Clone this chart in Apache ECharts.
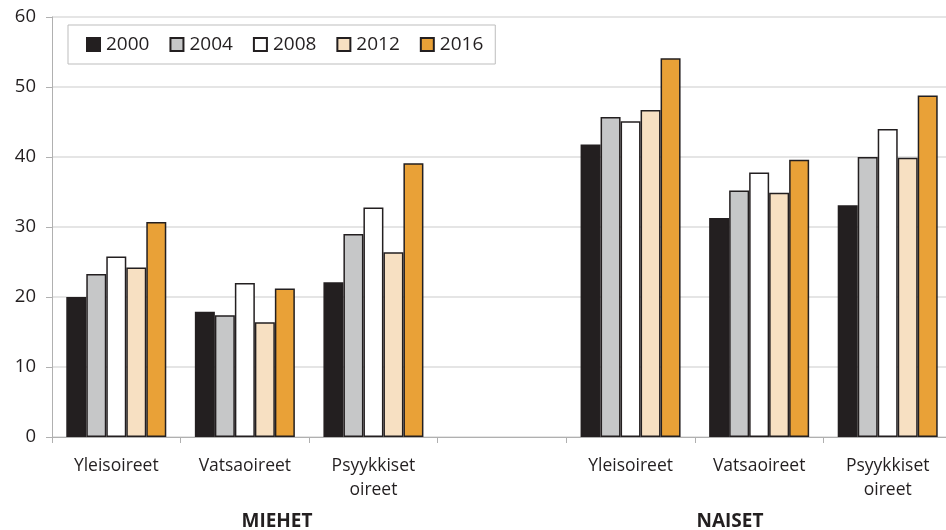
<!DOCTYPE html>
<html><head><meta charset="utf-8">
<script src="https://cdn.jsdelivr.net/npm/echarts@6/dist/echarts.min.js"></script>
<style>html,body{margin:0;padding:0;background:#fff;overflow:hidden;width:946px;height:530px}#c{width:952px;height:530px}</style>
</head><body><div id="c"></div>
<script>
const categories = ['Yleisoireet','Vatsaoireet','Psyykkiset\noireet','','Yleisoireet','Vatsaoireet','Psyykkiset\noireet'];
const years = ['2000','2004','2008','2012','2016'];
const s2000 = [20.0, 17.9, 22.1, null, 41.8, 31.3, 33.1];
const s2004 = [23.3, 17.4, 29.0, null, 45.7, 35.2, 40.0];
const s2008 = [25.8, 22.0, 32.8, null, 45.1, 37.8, 44.0];
const s2012 = [24.2, 16.4, 26.4, null, 46.7, 34.9, 39.9];
const s2016 = [30.7, 21.2, 39.1, null, 54.1, 39.6, 48.8];
const yTicks = [0, 10, 20, 30, 40, 50, 60];
const groupLabels = ['MIEHET', 'NAISET'];

const colors = ['#231f20', '#c6c7c8', '#ffffff', '#f7e0c2', '#e9a137'];
const seriesData = [s2000, s2004, s2008, s2012, s2016];
const font = 'Open Sans, Noto Sans, sans-serif';

const chart = echarts.init(document.getElementById('c'));
chart.setOption({
  animation: false,
  grid: { left: 52, top: 17, right: 0, height: 420, containLabel: false },
  legend: {
    data: years,
    left: 68, top: 25,
    padding: [10, 12, 10, 18],
    borderColor: '#bdbdbd', borderWidth: 1,
    itemWidth: 13, itemHeight: 13, itemGap: 20,
    icon: 'rect',
    textStyle: { fontFamily: font, fontSize: 19, color: '#231f20', padding: [0, 0, 0, 1] }
  },
  xAxis: {
    type: 'category', data: categories,
    axisLine: { lineStyle: { color: '#b0b0b0', width: 1 } },
    axisTick: { show: true, length: 6, lineStyle: { color: '#b0b0b0' } },
    axisLabel: { fontFamily: font, fontSize: 17.5, color: '#231f20', margin: 17, lineHeight: 24, interval: 0 }
  },
  yAxis: {
    type: 'value', min: 0, max: 60, interval: 10,
    axisLine: { show: true, lineStyle: { color: '#b0b0b0' } },
    axisTick: { show: true, length: 6, lineStyle: { color: '#b0b0b0' } },
    splitLine: { lineStyle: { color: '#dcdcdc', width: 1.5 } },
    axisLabel: { fontFamily: font, fontSize: 18.5, color: '#231f20', margin: 16,
      formatter: v => yTicks.includes(v) ? String(v) : '' }
  },
  series: years.map((y, i) => ({
    name: y, type: 'bar', data: seriesData[i],
    barWidth: 20, barGap: '0%',
    itemStyle: { color: colors[i], borderColor: '#231f20', borderWidth: 1.5 }
  })),
  graphic: [
    { type: 'text', x: 277, y: 522, style: { text: groupLabels[0], font: 'bold 19px ' + font, fill: '#231f20', textAlign: 'center', textVerticalAlign: 'middle' } },
    { type: 'text', x: 730, y: 522, style: { text: groupLabels[1], font: 'bold 19px ' + font, fill: '#231f20', textAlign: 'center', textVerticalAlign: 'middle' } }
  ]
});
</script></body></html>
